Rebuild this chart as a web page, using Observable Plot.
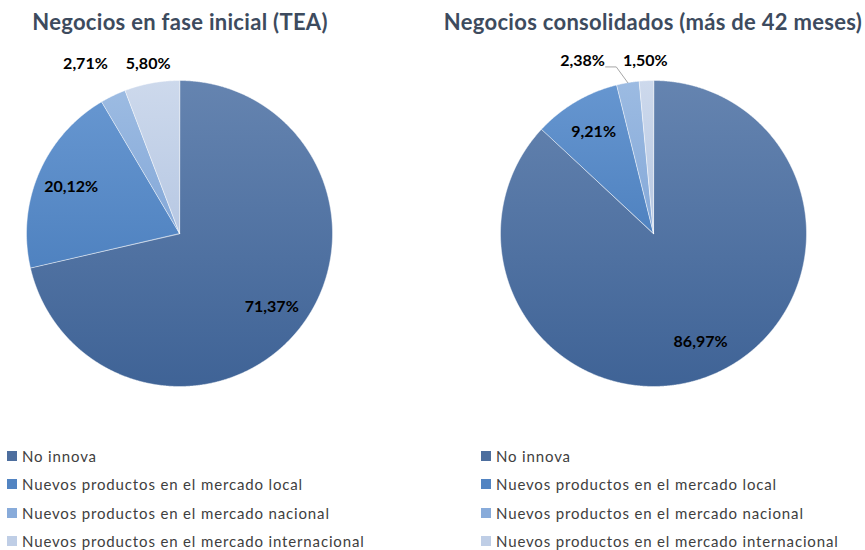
<!DOCTYPE html>
<html><head><meta charset="utf-8">
<script src="https://cdn.jsdelivr.net/npm/d3@7"></script>
<script src="https://cdn.jsdelivr.net/npm/@observablehq/plot@0.6"></script>
<style>
body{margin:0;background:#fff;font-family:Lato,"Open Sans",sans-serif;}
#wrap{position:relative;width:865px;height:550px;overflow:hidden;background:#fff}
.title{position:absolute;top:11px;transform:translateX(-50%);white-space:nowrap;font-weight:700;font-size:22px;line-height:22px;letter-spacing:0.3px;color:#3d4b5e}
#chart{position:absolute;left:0;top:50px}
.legend{position:absolute;top:441.5px}
.item{height:28.5px;display:flex;align-items:center;font-size:15px;color:#404040;letter-spacing:0.85px;white-space:nowrap}
.sw{width:10px;height:10px;margin-right:5px;flex:none}
</style>
</head><body>
<div id="wrap">
  <div class="title" id="t0" style="left:180px"></div>
  <div class="title" id="t1" style="left:653px"></div>
  <div id="chart"></div>
  <div class="legend" id="lg0" style="left:7px"></div>
  <div class="legend" id="lg1" style="left:481px"></div>
</div>
<script>
const panels = ["Negocios en fase inicial (TEA)", "Negocios consolidados (más de 42 meses)"];
const categories = [
  "No innova",
  "Nuevos productos en el mercado local",
  "Nuevos productos en el mercado nacional",
  "Nuevos productos en el mercado internacional"
];
const teaValues = [71.37, 20.12, 2.71, 5.80];
const consolidatedValues = [86.97, 9.21, 2.38, 1.50];

// styles
const gradients = [
  {id: "g0", top: "#6584b0", bottom: "#3f6396"},
  {id: "g1", top: "#6696d0", bottom: "#4f82c0"},
  {id: "g2", top: "#9cbbe2", bottom: "#84a8d8"},
  {id: "g3", top: "#cdd9ec", bottom: "#b7c8e3"}
];
const swatchColors = ["#4d6e9e", "#5284c2", "#88abda", "#bfcee6"];

const seriesByPanel = [teaValues, consolidatedValues];
const fmt = v => v.toFixed(2).replace(".", ",") + "%";

const slicePoints = [], labels = [], leaders = [];
panels.forEach((panel, pi) => {
  const vals = seriesByPanel[pi];
  const total = d3.sum(vals);
  let acc = 0;
  const outside = [];
  vals.forEach((v, ci) => {
    const a0 = acc / total * 2 * Math.PI; acc += v;
    const a1 = acc / total * 2 * Math.PI;
    const key = panel + "|" + ci;
    const category = categories[ci];
    slicePoints.push({panel, key, category, x: 0, y: 0});
    const n = Math.max(2, Math.ceil((a1 - a0) / (Math.PI / 720)));
    for (let k = 0; k <= n; k++) {
      const a = a0 + (a1 - a0) * k / n;
      slicePoints.push({panel, key, category, x: Math.sin(a), y: Math.cos(a)});
    }
    const am = (a0 + a1) / 2;
    const frac = v / total;
    const inside = frac >= 0.09;
    const r = inside ? 0.77 : 1.13;
    const lab = {panel, text: fmt(v), x: r * Math.sin(am), y: r * Math.cos(am), am};
    labels.push(lab);
    if (!inside) outside.push(lab);
  });
  outside.sort((a, b) => b.x - a.x);
  for (let i = 1; i < outside.length; i++) {
    const l = outside[i], prev = outside[i - 1];
    if (Math.abs(l.y - prev.y) < 0.12 && prev.x - l.x < 0.41) {
      const nx = prev.x - 0.41;
      const shift = l.x - nx;
      l.x = nx; l.y = prev.y;
      if (shift > 0.2) {
        const id = l.panel + "|lead" + i;
        leaders.push({panel: l.panel, id, x: l.x + 0.15, y: l.y - 0.04});
        leaders.push({panel: l.panel, id, x: l.x + 0.22, y: l.y - 0.04});
        leaders.push({panel: l.panel, id, x: Math.sin(l.am), y: Math.cos(l.am)});
      }
    }
  }
});

const chart = Plot.plot({
  width: 865, height: 346,
  marginTop: 30, marginBottom: 10, marginLeft: 26, marginRight: 59,
  fx: {domain: panels, paddingInner: 0.3544, paddingOuter: 0, round: false, axis: null},
  x: {domain: [-1, 1], axis: null},
  y: {domain: [-1, 1], axis: null},
  color: {domain: categories, range: gradients.map(g => `url(#${g.id})`)},
  style: {fontFamily: "Lato, 'Open Sans', sans-serif", background: "white", overflow: "visible"},
  marks: [
    Plot.line(slicePoints, {x: "x", y: "y", z: "key", fx: "panel", fill: "category",
      stroke: "#ffffff", strokeOpacity: 0.6, strokeWidth: 0.8, curve: "linear-closed"}),
    Plot.line(leaders, {x: "x", y: "y", z: "id", fx: "panel", stroke: "#a6a6a6", strokeWidth: 1}),
    Plot.text(labels, {x: "x", y: "y", fx: "panel", text: "text", fontSize: 16, fontWeight: "bold", fill: "#000"})
  ]
});

const defs = d3.select(chart).insert("defs", ":first-child");
gradients.forEach(g => {
  const lg = defs.append("linearGradient").attr("id", g.id).attr("x1", 0).attr("y1", 0).attr("x2", 0).attr("y2", 1);
  lg.append("stop").attr("offset", "0%").attr("stop-color", g.top);
  lg.append("stop").attr("offset", "100%").attr("stop-color", g.bottom);
});
document.getElementById("chart").appendChild(chart);

panels.forEach((p, i) => {
  document.getElementById("t" + i).textContent = p;
  const lg = document.getElementById("lg" + i);
  categories.forEach((c, ci) => {
    const item = document.createElement("div");
    item.className = "item";
    const sw = document.createElement("span");
    sw.className = "sw"; sw.style.background = swatchColors[ci];
    const tx = document.createElement("span");
    tx.textContent = c;
    item.appendChild(sw); item.appendChild(tx);
    lg.appendChild(item);
  });
});
</script>
</body></html>
